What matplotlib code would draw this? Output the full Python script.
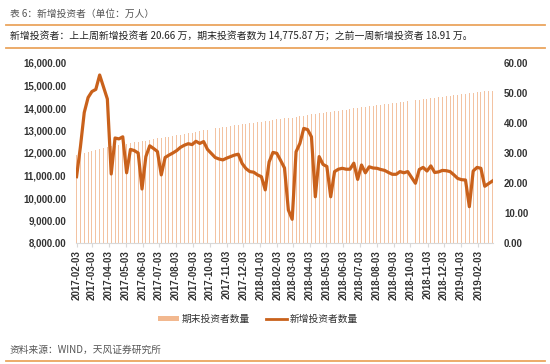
import numpy as np
import pandas as pd
import matplotlib
matplotlib.use('Agg')
import matplotlib.pyplot as plt
import matplotlib.dates as mdates
from matplotlib.lines import Line2D
from matplotlib.patches import Patch
from matplotlib.ticker import FuncFormatter, MultipleLocator

plt.rcParams['font.family'] = ['Noto Sans CJK SC', 'DejaVu Sans']

# weekly dates, National Day weeks missing
dates = pd.date_range('2017-02-03', '2019-03-01', freq='7D')
dates = dates.drop([pd.Timestamp('2017-10-06'), pd.Timestamp('2018-10-05')])

# 期末投资者数量 (万)
total_investors = [
    11910, 11941, 11983, 12029, 12078, 12127, 12181, 12231, 12277, 12299,
    12332, 12365, 12400, 12422, 12451, 12481, 12510, 12527, 12555, 12586,
    12617, 12645, 12667, 12695, 12723, 12752, 12782, 12812, 12844, 12876,
    12907, 12940, 12972, 13004, 13034,
    13090, 13117, 13144, 13170, 13198, 13226, 13255, 13280, 13304, 13327,
    13349, 13371, 13392, 13410, 13435, 13464, 13493, 13520, 13544, 13554,
    13562, 13591, 13623, 13660, 13696, 13730, 13745, 13772, 13797, 13821,
    13837, 13860, 13883, 13907, 13931, 13954, 13980, 14000, 14025, 14048,
    14072, 14096, 14120, 14143, 14167, 14189, 14211, 14233, 14256, 14278,
    14301,
    14343, 14367, 14391, 14414, 14438, 14461, 14484, 14507, 14530, 14553,
    14574, 14595, 14615, 14635, 14647, 14670, 14694, 14718, 14736, 14755, 14775.87]

# 新增投资者数量 (万)
new_investors = [
    22.1, 32, 43.5, 48.5, 50.5, 51.2, 56, 52, 48, 23,
    35, 34.7, 35.4, 23.4, 31.2, 30.8, 30, 18, 28.8, 32.4,
    31.5, 30.5, 22.7, 28.5, 29.3, 30, 30.8, 31.9, 32.6, 33.1,
    32.8, 33.9, 33.2, 33.8, 31.2,
    28.5, 28, 27.7, 28.3, 28.8, 29.3, 29.6, 26.5, 24.8, 23.8,
    23.6, 22.7, 22.1, 17.7, 27, 30.2, 29.9, 27.5, 25, 11,
    7.9, 30.4, 33.2, 38.2, 37.8, 35.4, 15.4, 28.8, 26.2, 25.5,
    15.4, 23.8, 24.6, 24.9, 24.6, 24.6, 26.6, 21.2, 26, 23.4,
    25.4, 25, 24.9, 24.5, 24.2, 23.5, 22.9, 22.9, 23.8, 23.4,
    23.8,
    19.9, 24.5, 25.2, 24, 25.7, 23.5, 23.7, 24.2, 24.1, 23.8,
    22.7, 21.5, 21.1, 21, 12.1, 24, 25.2, 24.9, 18.91, 19.8, 20.66]

tick_dates = pd.date_range('2017-02-03', periods=25, freq=pd.DateOffset(months=1))

bar_color = '#f3c3a2'
line_color = '#c9611b'
rule_color = '#eaa55e'
text_color = '#333333'

W, H = 550, 364
fig = plt.figure(figsize=(W / 100, H / 100), dpi=100)

def fx(px):
    return px / W

def fy(py):
    return 1 - py / H

# header / footer
fig.text(fx(10), fy(14), '表 6：新增投资者（单位：万人）', fontsize=7, color='#555555', va='center')
fig.add_artist(Line2D([0.01, 0.99], [fy(24.5), fy(24.5)], transform=fig.transFigure, color=rule_color, lw=1.3))
fig.text(fx(10), fy(36), '新增投资者：上上周新增投资者 20.66 万，期末投资者数为 14,775.87 万；之前一周新增投资者 18.91 万。',
         fontsize=7.1, color='#222222', va='center')
fig.add_artist(Line2D([0.01, 0.99], [fy(47.5), fy(47.5)], transform=fig.transFigure, color=rule_color, lw=1.3))
fig.text(fx(10), fy(350), '资料来源：WIND，天风证券研究所', fontsize=7, color='#555555', va='center')
fig.add_artist(Line2D([0.01, 0.99], [fy(361), fy(361)], transform=fig.transFigure, color=rule_color, lw=1.3))

ax = fig.add_axes([fx(76), fy(243), fx(493) - fx(76), fy(63) - fy(243)])
ax.bar(dates, total_investors, width=1.8, color=bar_color, linewidth=0)
ax.set_ylim(8000, 16000)
ax.set_xlim(pd.Timestamp('2017-02-02'), pd.Timestamp('2019-03-02'))
ax.yaxis.set_major_locator(MultipleLocator(1000))
ax.yaxis.set_major_formatter(FuncFormatter(lambda v, p: f'{v:,.2f}'))

ax2 = ax.twinx()
ax2.plot(dates, new_investors, color=line_color, lw=2.3, solid_joinstyle='round')
ax2.set_ylim(0, 60)
ax2.yaxis.set_major_locator(MultipleLocator(10))
ax2.yaxis.set_major_formatter(FuncFormatter(lambda v, p: f'{v:.2f}'))

ax.set_xticks(tick_dates)
ax.xaxis.set_major_formatter(mdates.DateFormatter('%Y-%m-%d'))

for a in (ax, ax2):
    for s in a.spines.values():
        s.set_visible(False)
ax.spines['bottom'].set_visible(True)
ax.spines['bottom'].set_color('#d9d9d9')

tick_font = dict(family=['Liberation Sans', 'DejaVu Sans'], weight='bold', size=7)
ax.tick_params(axis='y', length=0, pad=7, colors=text_color)
ax2.tick_params(axis='y', length=0, pad=8, colors=text_color)
ax.tick_params(axis='x', length=3, color='#d9d9d9', pad=2, labelcolor=text_color)
for lab in ax.get_yticklabels() + ax2.get_yticklabels():
    lab.set_fontproperties(tick_font)
for lab in ax.get_xticklabels():
    lab.set_fontproperties(tick_font)
    lab.set_rotation(90)

handles = [Patch(facecolor='#f2b88f', edgecolor='none'),
           Line2D([0], [0], color=line_color, lw=2.0)]
fig.legend(handles, ['期末投资者数量', '新增投资者数量'], loc='center',
           bbox_to_anchor=(fx(258), fy(319)), ncol=2, frameon=False,
           fontsize=7, handlelength=2.2, handleheight=0.5, columnspacing=1.6,
           handletextpad=0.3, labelcolor=text_color)

fig.savefig('out.png', dpi=100)
